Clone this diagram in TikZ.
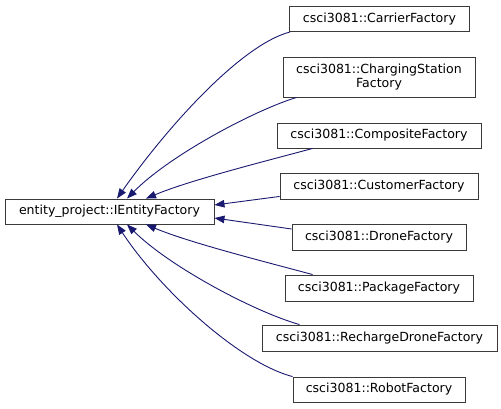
\documentclass[tikz,border=0pt]{standalone}
\usepackage{fontspec}
\setmainfont{DejaVu Sans}
\usetikzlibrary{arrows.meta}
\definecolor{edgeblue}{HTML}{191970}
\definecolor{boxborder}{HTML}{3A3A3A}
\tikzset{
  cls/.style={draw=boxborder, line width=0.9bp, fill=white, inner sep=0pt, align=center,
    font=\fontsize{12.6}{14}\selectfont},
  inh/.style={draw=edgeblue, line width=0.9bp, -{Triangle[length=10bp,width=7.5bp]}, edgeblue}
}
\begin{document}
\begin{tikzpicture}[x=1bp,y=-1bp]
\useasboundingbox (0,0) rectangle (501,408);
\node[cls, minimum width=209bp, minimum height=25bp] (base) at (109.5,211.5) {entity\_project::IEntityFactory};
\node[cls, minimum width=180bp, minimum height=25bp] (carrier) at (379.5,19) {csci3081::CarrierFactory};
\node[cls, minimum width=192bp, minimum height=40bp] (charging) at (379,77) {csci3081::ChargingStation\\Factory};
\node[cls, minimum width=204bp, minimum height=25bp] (composite) at (379,135.5) {csci3081::CompositeFactory};
\node[cls, minimum width=198bp, minimum height=26bp] (customer) at (379,186) {csci3081::CustomerFactory};
\node[cls, minimum width=174bp, minimum height=26bp] (drone) at (379,237) {csci3081::DroneFactory};
\node[cls, minimum width=188bp, minimum height=26bp] (package) at (379,288) {csci3081::PackageFactory};
\node[cls, minimum width=235bp, minimum height=26bp] (recharge) at (379.5,338) {csci3081::RechargeDroneFactory};
\node[cls, minimum width=172bp, minimum height=25bp] (robot) at (379,389.5) {csci3081::RobotFactory};

\draw[inh] ([xshift=1bp]carrier.south west) .. controls (240,45) and (165,130) .. ([xshift=7.5bp]base.north);
\draw[inh] ([xshift=14bp]charging.south west) .. controls (255,110) and (170,155) .. ([xshift=17.5bp]base.north);
\draw[inh] ([xshift=36bp]composite.south west) .. controls (270,160) and (190,180) .. ([xshift=36.5bp]base.north);
\draw[inh] ([yshift=3bp]customer.south west) -- ([yshift=6.5bp]base.east);
\draw[inh] ([yshift=8bp]drone.west) -- ([yshift=-6.5bp]base.east);
\draw[inh] ([xshift=28bp]package.north west) .. controls (270,263) and (190,243) .. ([xshift=36.5bp]base.south);
\draw[inh] ([xshift=38bp]recharge.north west) .. controls (255,312) and (170,267) .. ([xshift=17.5bp]base.south);
\draw[inh] (robot.north west) .. controls (240,363) and (160,290) .. ([xshift=7.5bp]base.south);
\end{tikzpicture}
\end{document}
